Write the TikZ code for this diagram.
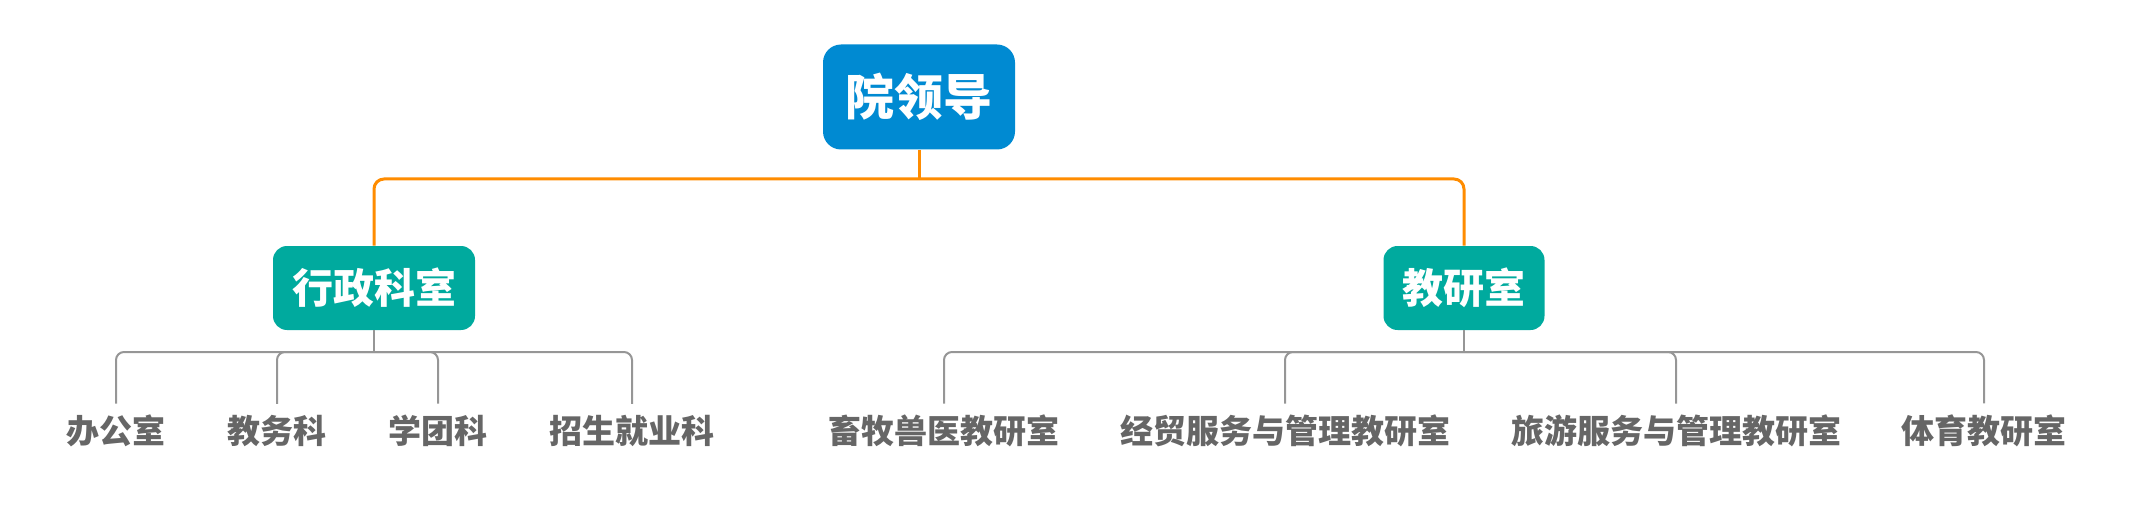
\documentclass[tikz,border=0pt]{standalone}
\usepackage{fontspec}
\newfontfamily\cjk{Noto Sans CJK SC}
\usepackage{xcolor}
\usepackage{tikz}
\usetikzlibrary{positioning}
\definecolor{rootblue}{RGB}{0,138,210}
\definecolor{boxteal}{RGB}{0,170,158}
\definecolor{linkorange}{RGB}{255,140,0}
\definecolor{linkgrey}{RGB}{150,150,150}
\definecolor{labelgrey}{RGB}{102,102,102}

\begin{document}
\begin{tikzpicture}[x=0.5pt,y=0.5pt,
  rootbox/.style={fill=rootblue, text=white, rounded corners=9pt, minimum width=96pt, minimum height=52.5pt, inner sep=0pt, font=\cjk\bfseries\fontsize{24.5pt}{26pt}\selectfont},
  midbox/.style={fill=boxteal, text=white, rounded corners=7pt, minimum height=42pt, inner xsep=9.5pt, inner ysep=0pt, font=\cjk\bfseries\fontsize{20.5pt}{22pt}\selectfont},
  leaf/.style={text=labelgrey, inner xsep=0pt, inner ysep=5.5pt, font=\cjk\bfseries\fontsize{16.5pt}{18pt}\selectfont},
  toplink/.style={draw=linkorange, line width=1.5pt, rounded corners=5pt},
  leaflink/.style={draw=linkgrey, line width=1pt, rounded corners=4pt}]
\useasboundingbox (0,0) rectangle (2132,-508);
\node[rootbox] (root) at (919,-97) {院领导};
\node[midbox] (xz) at (374,-288) {行政科室};
\node[midbox] (jy) at (1464,-288) {教研室};
\coordinate (topbus) at (919,-179);
\draw[toplink] (root.south) -- (topbus);
\draw[toplink] (xz.north) |- (topbus) -| (jy.north);

\node[leaf] (bgs) at (116,-431) {办公室};
\node[leaf] (jwk) at (277,-431) {教务科};
\node[leaf] (xtk) at (438,-431) {学团科};
\node[leaf] (zsk) at (632,-431) {招生就业科};
\coordinate (xzbus) at (374,-352);
\draw[leaflink] (xz.south) -- (xzbus);
\draw[leaflink] (bgs.north) |- (xzbus) -| (zsk.north);
\draw[leaflink] (jwk.north) |- (xzbus);
\draw[leaflink] (xtk.north) |- (xzbus);

\node[leaf] (xmsy) at (944,-431) {畜牧兽医教研室};
\node[leaf] (jmfw) at (1285,-431) {经贸服务与管理教研室};
\node[leaf] (lyfw) at (1676,-431) {旅游服务与管理教研室};
\node[leaf] (tyjy) at (1984,-431) {体育教研室};
\coordinate (jybus) at (1464,-352);
\draw[leaflink] (jy.south) -- (jybus);
\draw[leaflink] (xmsy.north) |- (jybus) -| (tyjy.north);
\draw[leaflink] (jmfw.north) |- (jybus);
\draw[leaflink] (lyfw.north) |- (jybus);
\end{tikzpicture}
\end{document}
